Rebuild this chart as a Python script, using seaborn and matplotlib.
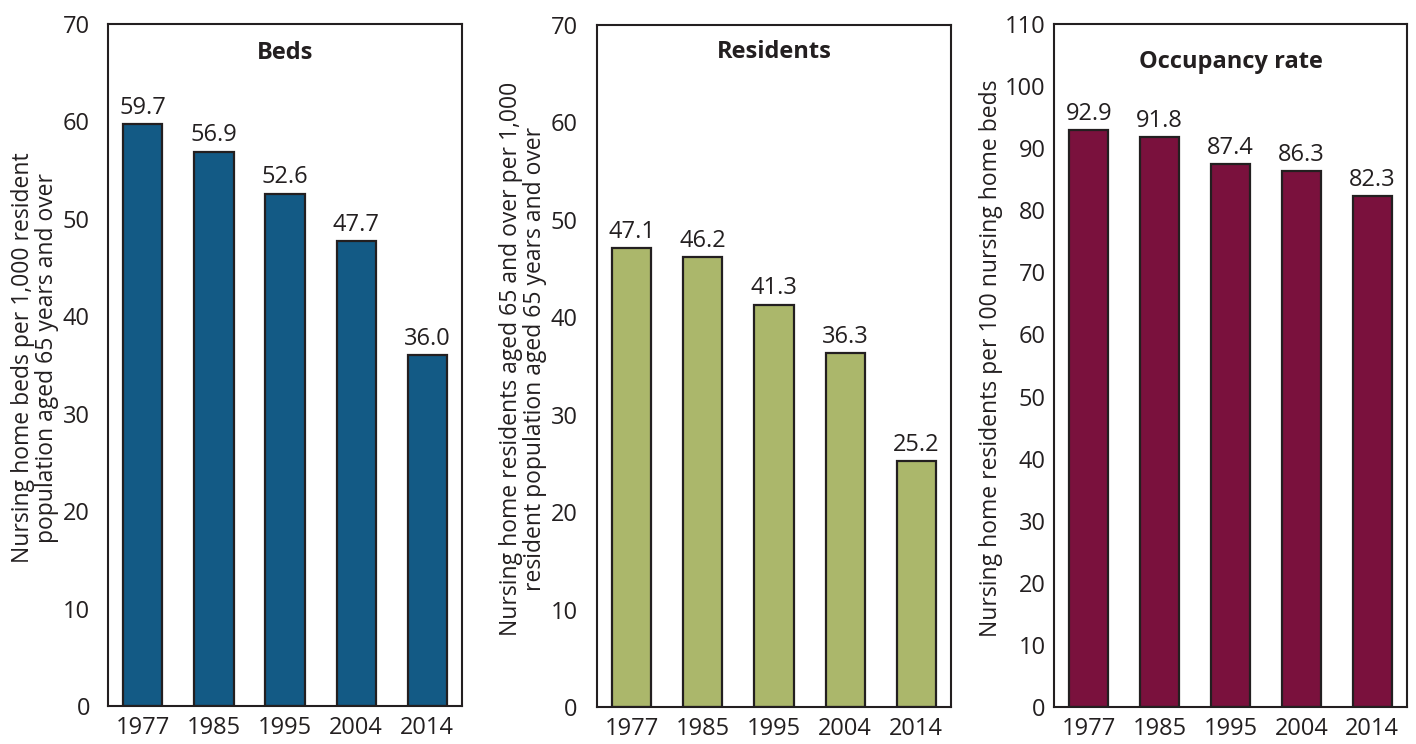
import pandas as pd
import seaborn as sns
import matplotlib.pyplot as plt

years = ["1977", "1985", "1995", "2004", "2014"]
beds = [59.7, 56.9, 52.6, 47.7, 36.0]
residents = [47.1, 46.2, 41.3, 36.3, 25.2]
occupancy = [92.9, 91.8, 87.4, 86.3, 82.3]

titles = ["Beds", "Residents", "Occupancy rate"]
ylabels = [
    "Nursing home beds per 1,000 resident\npopulation aged 65 years and over",
    "Nursing home residents aged 65 and over per 1,000\nresident population aged 65 years and over",
    "Nursing home residents per 100 nursing home beds",
]
colors = ["#135a85", "#abb76b", "#7a113d"]
ymax = [70, 70, 110]
title_y = [0.975, 0.978, 0.962]
label_x = [-0.205, -0.21, -0.18]
ytick_pad = [13, 14, 6]

FS = 17


def set_config():
    sns.set_style("white")
    plt.rcParams["font.family"] = ["Open Sans", "DejaVu Sans"]
    plt.rcParams["font.size"] = FS


def draw_panel(ax, values, title, ylabel, color, top, ty, lx, ypad):
    df = pd.DataFrame({"year": years, "value": values})
    sns.barplot(x="year", y="value", data=df, color=color, width=0.55,
                edgecolor="#231f20", linewidth=1.6, saturation=1, ax=ax)
    # 막대 위 값 표시
    for c in ax.containers:
        ax.bar_label(c, labels=[f"{v:.1f}" for v in values], padding=3,
                     fontsize=FS, color="#231f20")
    ax.set_xlim(-0.49, 4.49)
    ax.set_ylim(0, top)
    ax.set_yticks(range(0, top + 1, 10))
    ax.set_xlabel("")
    ax.set_ylabel(ylabel, fontsize=16.5, color="#231f20", va="center",
                  linespacing=1.0)
    ax.yaxis.set_label_coords(lx, 0.51)
    ax.text(0.5, ty, title, transform=ax.transAxes, ha="center", va="top",
            fontsize=FS, fontweight="bold", color="#231f20")
    ax.tick_params(axis="both", length=0, labelsize=FS, colors="#231f20")
    ax.tick_params(axis="x", pad=7)
    ax.tick_params(axis="y", pad=ypad)
    for s in ax.spines.values():
        s.set_visible(True)
        s.set_color("#231f20")
        s.set_linewidth(1.5)


def main():
    set_config()
    fig = plt.figure(figsize=(14.16, 7.44), dpi=100)
    boxes = [
        [0.0763, 0.0511, 0.25, 0.9166],
        [0.4216, 0.0497, 0.25, 0.9167],
        [0.7444, 0.0497, 0.2493, 0.9180],
    ]
    data = [beds, residents, occupancy]
    for i in range(3):
        ax = fig.add_axes(boxes[i])
        draw_panel(ax, data[i], titles[i], ylabels[i], colors[i], ymax[i],
                   title_y[i], label_x[i], ytick_pad[i])
    fig.savefig("out.png", dpi=100)


if __name__ == "__main__":
    main()
